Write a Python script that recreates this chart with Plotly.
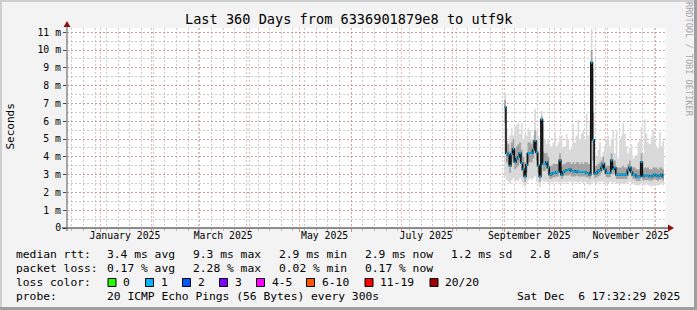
import plotly.graph_objects as go
from datetime import datetime, timedelta

# ---------------- data ----------------
title_text = "Last 360 Days from 6336901879e8 to utf9k"
x_range = ["2024-12-12 04:00", "2025-12-07 04:48"]
data_start = "2025-09-01"

median_ms = [
    6.8, 4.2, 4.1, 3.5, 4.15, 4.45, 3.7, 3.9, 4.0, 4.2,
    3.65, 3.3, 2.9, 3.55, 4.2, 4.2, 4.2, 4.4, 4.9, 4.25,
    3.5, 2.9, 6.1, 3.6, 3.6, 3.7, 3.4, 3.0, 3.05, 3.1,
    3.1, 3.15, 3.15, 3.8, 3.0, 3.15, 3.2, 3.25, 3.25, 3.3,
    3.2, 3.2, 3.15, 3.2, 3.15, 3.15, 3.15, 3.15, 3.15, 3.1,
    3.1, 3.0, 9.3, 4.95, 3.05, 3.1, 3.2, 3.25, 3.4, 3.6,
    3.3, 3.1, 3.1, 3.1, 3.8, 3.3, 3.4, 3.0, 3.0, 3.0,
    3.0, 3.0, 3.0, 3.0, 3.25, 3.4, 3.15, 3.0, 3.0, 2.9,
    2.9, 2.9, 3.7, 2.9, 2.95, 2.95, 2.95, 2.9, 2.9, 2.95,
    3.0, 2.95, 2.9, 2.95, 3.0, 2.9]

smoke_hi_ms = [
    7.6, 5.6, 4.8, 5.2, 5.6, 5.2, 5.7, 5.8, 5.9, 5.3,
    5.9, 5.0, 5.3, 5.2, 5.6, 5.5, 5.0, 5.2, 6.7, 5.5,
    5.2, 4.5, 6.6, 5.8, 5.0, 4.7, 5.0, 4.6, 4.6, 4.8,
    5.4, 4.6, 4.8, 5.2, 5.2, 4.5, 4.6, 5.3, 5.0, 4.4,
    4.5, 5.8, 4.8, 5.2, 6.1, 5.0, 5.3, 5.5, 5.0, 6.4,
    5.2, 6.0, 11.2, 9.0, 4.3, 4.0, 4.4, 4.8, 4.0, 4.3,
    4.6, 5.0, 5.2, 4.6, 5.0, 5.5, 4.2, 5.5, 3.9, 5.0,
    5.2, 5.9, 5.3, 4.6, 4.2, 4.5, 4.7, 3.9, 4.0, 4.1,
    4.8, 5.0, 5.7, 4.2, 6.1, 5.3, 4.8, 4.7, 5.1, 5.5,
    5.0, 4.6, 4.5, 5.4, 4.6, 4.9]

smoke_lo_ms = [
    2.9, 2.7, 2.6, 2.5, 2.7, 2.8, 2.6, 2.7, 2.6, 2.8,
    2.6, 2.4, 2.3, 2.5, 2.7, 2.8, 2.7, 2.8, 2.9, 2.6,
    2.5, 2.3, 2.7, 2.6, 2.6, 2.6, 2.5, 2.5, 2.6, 2.5,
    2.6, 2.6, 2.5, 2.6, 2.5, 2.6, 2.6, 2.5, 2.6, 2.6,
    2.6, 2.5, 2.6, 2.6, 2.5, 2.6, 2.6, 2.5, 2.6, 2.5,
    2.5, 2.4, 2.6, 2.6, 2.5, 2.5, 2.6, 2.6, 2.6, 2.6,
    2.5, 2.5, 2.5, 2.6, 2.6, 2.5, 2.6, 2.5, 2.5, 2.5,
    2.5, 2.5, 2.5, 2.5, 2.6, 2.6, 2.5, 2.5, 2.4, 2.4,
    2.4, 2.4, 2.5, 2.4, 2.4, 2.5, 2.4, 2.4, 2.3, 2.4,
    2.4, 2.4, 2.4, 2.4, 2.5, 2.4]

smoke_p80_ms = [
    7.2, 4.9, 4.7, 4.3, 4.8, 5.0, 4.4, 4.6, 4.7, 4.8,
    4.4, 4.0, 3.7, 4.2, 4.8, 4.8, 4.7, 4.9, 5.5, 4.9,
    4.2, 3.6, 6.3, 4.3, 4.2, 4.2, 4.0, 3.5, 3.5, 3.6,
    3.6, 3.6, 3.6, 4.2, 3.5, 3.6, 3.6, 3.7, 3.7, 3.7,
    3.6, 3.7, 3.6, 3.7, 3.7, 3.6, 3.7, 3.6, 3.7, 3.7,
    3.6, 3.6, 10.0, 6.5, 3.5, 3.5, 3.6, 3.7, 3.8, 4.0,
    3.7, 3.5, 3.5, 3.5, 4.2, 3.7, 3.8, 3.4, 3.4, 3.4,
    3.4, 3.5, 3.4, 3.4, 3.6, 3.8, 3.5, 3.4, 3.4, 3.3,
    3.3, 3.3, 4.2, 3.3, 3.4, 3.4, 3.4, 3.3, 3.3, 3.4,
    3.4, 3.4, 3.3, 3.4, 3.4, 3.3]

smoke_p20_ms = [
    5.9, 3.7, 3.6, 3.1, 3.7, 3.9, 3.3, 3.4, 3.5, 3.7,
    3.2, 2.9, 2.6, 3.1, 3.7, 3.7, 3.7, 3.9, 4.3, 3.8,
    3.1, 2.6, 5.2, 3.2, 3.2, 3.3, 3.0, 2.75, 2.8, 2.85,
    2.85, 2.9, 2.9, 3.3, 2.75, 2.9, 2.95, 2.95, 2.95, 3.0,
    2.9, 2.9, 2.9, 2.95, 2.9, 2.9, 2.9, 2.9, 2.9, 2.85,
    2.85, 2.75, 7.0, 3.8, 2.8, 2.85, 2.9, 2.95, 3.1, 3.25,
    3.0, 2.85, 2.85, 2.85, 3.4, 3.0, 3.1, 2.75, 2.75, 2.75,
    2.75, 2.75, 2.75, 2.75, 2.95, 3.1, 2.9, 2.75, 2.75, 2.65,
    2.65, 2.65, 3.3, 2.65, 2.7, 2.7, 2.7, 2.65, 2.65, 2.7,
    2.75, 2.7, 2.65, 2.7, 2.75, 2.65]

y_tick_vals = [0, 1, 2, 3, 4, 5, 6, 7, 8, 9, 10, 11]
y_tick_text = ["0", "1 m", "2 m", "3 m", "4 m", "5 m", "6 m", "7 m", "8 m", "9 m", "10 m", "11 m"]
y_max = 11.24

month_starts = ["2025-01-01", "2025-02-01", "2025-03-01", "2025-04-01", "2025-05-01", "2025-06-01",
                "2025-07-01", "2025-08-01", "2025-09-01", "2025-10-01", "2025-11-01", "2025-12-01"]
label_dates = ["2025-01-16", "2025-03-16", "2025-05-16", "2025-07-16", "2025-09-16", "2025-11-16"]
label_text = ["January 2025", "March 2025", "May 2025", "July 2025", "September 2025", "November 2025"]

rtt_label = "median rtt:"
rtt_stats = ["3.4 ms avg", "9.3 ms max", "2.9 ms min", "2.9 ms now", "1.2 ms sd", "2.8", "am/s"]
loss_label = "packet loss:"
loss_stats = ["0.17 % avg", "2.28 % max", "0.02 % min", "0.17 % now"]
color_label = "loss color:"
loss_names = ["0", "1", "2", "3", "4-5", "6-10", "11-19", "20/20"]
loss_colors = ["#26ff00", "#00b8ff", "#0059ff", "#7e00ff", "#ff00ff", "#ff5500", "#ff0000", "#a00000"]
probe_label = "probe:"
probe_text = "20 ICMP Echo Pings (56 Bytes) every 300s"
date_text = "Sat Dec\u00a0\u00a06 17:32:29 2025"
watermark = "RRDTOOL / TOBI OETIKER"
y_title = "Seconds"

# ---------------- layout geometry ----------------
W, H = 697, 310
L, R, T, B = 67, 666, 28, 228
MONO = "DejaVu Sans Mono"
MAJOR_GRID = "rgba(225,110,110,0.5)"
MINOR_GRID = "rgba(160,160,160,0.55)"


def px(x):
    return (x - L) / (R - L)


def py(y):
    return (B - y) / (B - T)


# ---------------- traces ----------------
t0 = datetime.fromisoformat(data_start)
n = len(median_ms)
edges = [t0 + timedelta(days=i) for i in range(n + 1)]


def ext(a):
    return list(a) + [a[-1]]


fig = go.Figure()
common = dict(x=edges, mode="lines", line_shape="hv", hoverinfo="skip", showlegend=False)
fig.add_trace(go.Scatter(y=ext(smoke_lo_ms), line=dict(width=0), **common))
fig.add_trace(go.Scatter(y=ext(smoke_hi_ms), line=dict(width=0), fill="tonexty",
                         fillcolor="#d9d9d9", **common))
fig.add_trace(go.Scatter(y=ext(smoke_p20_ms), line=dict(width=0), **common))
fig.add_trace(go.Scatter(y=ext(smoke_p80_ms), line=dict(width=0), fill="tonexty",
                         fillcolor="#a2a2a2", **common))
fig.add_trace(go.Scatter(y=ext(median_ms), line=dict(width=1.6, color="#111111"), **common))

seg_x, seg_y = [], []
for i, v in enumerate(median_ms):
    seg_x += [edges[i], edges[i + 1], None]
    seg_y += [v, v, None]
fig.add_trace(go.Scatter(x=seg_x, y=seg_y, mode="lines", line=dict(width=2, color=loss_colors[1]),
                         hoverinfo="skip", showlegend=False))
# invisible trace on the overlay axis so its labels render
fig.add_trace(go.Scatter(x=[x_range[0]], y=[0], xaxis="x2", mode="markers",
                         marker=dict(opacity=0), hoverinfo="skip", showlegend=False))

# ---------------- shapes ----------------
shapes = []
shapes.append(dict(type="rect", xref="paper", yref="paper", x0=px(0), x1=px(W), y0=py(0), y1=py(2),
                   fillcolor="#cfcfcf", line_width=0, layer="above"))
shapes.append(dict(type="rect", xref="paper", yref="paper", x0=px(0), x1=px(2), y0=py(0), y1=py(H),
                   fillcolor="#cfcfcf", line_width=0, layer="above"))
shapes.append(dict(type="rect", xref="paper", yref="paper", x0=px(0), x1=px(W), y0=py(H - 3), y1=py(H),
                   fillcolor="#9e9e9e", line_width=0, layer="above"))
shapes.append(dict(type="rect", xref="paper", yref="paper", x0=px(W - 3), x1=px(W), y0=py(0), y1=py(H),
                   fillcolor="#9e9e9e", line_width=0, layer="above"))
shapes.append(dict(type="line", xref="paper", yref="paper", x0=px(62), x1=px(669), y0=py(228), y1=py(228),
                   line=dict(color="#222222", width=1), layer="above"))
shapes.append(dict(type="line", xref="paper", yref="paper", x0=px(67), x1=px(67), y0=py(231), y1=py(25),
                   line=dict(color="#555555", width=1), layer="above"))


def ppath(points):
    return "M " + " L ".join(f"{px(a)},{py(b)}" for a, b in points) + " Z"


shapes.append(dict(type="path", xref="paper", yref="paper",
                   path=ppath([(668, 224.5), (674, 228), (668, 231.5)]),
                   fillcolor="#8b1010", line=dict(width=0), layer="above"))
shapes.append(dict(type="path", xref="paper", yref="paper",
                   path=ppath([(63.5, 27), (67, 21), (70.5, 27)]),
                   fillcolor="#8b1010", line=dict(width=0), layer="above"))

box_x = [108, 145.5, 182.5, 219.5, 256.5, 306.5, 365, 430]
for bx, c in zip(box_x, loss_colors):
    shapes.append(dict(type="rect", xref="paper", yref="paper", x0=px(bx), x1=px(bx + 8),
                       y0=py(286.5), y1=py(278.5), fillcolor=c,
                       line=dict(color="#000000", width=1), layer="above"))

# ---------------- annotations ----------------
ann = []


def text(x, y, s, size=11.3, anchor="left", color="#000000", angle=0):
    ann.append(dict(x=px(x), y=py(y), xref="paper", yref="paper", text=s, showarrow=False,
                    xanchor=anchor, yanchor="middle", textangle=angle, borderpad=0,
                    font=dict(family=MONO, size=size, color=color)))


text(348, 19, title_text, size=13.6, anchor="center")
text(9.5, 127, y_title, size=11, anchor="center", angle=-90)
text(689, 59, watermark, size=8.6, anchor="center", angle=90, color="#a8a8a8")

row1_y, row2_y, row3_y, row4_y = 254.5, 268.5, 282.5, 296.5
text(15, row1_y, rtt_label)
for xx, s in zip([106, 192, 278, 364, 450, 529, 571], rtt_stats):
    text(xx, row1_y, s)
text(15, row2_y, loss_label)
for xx, s in zip([106, 192, 278, 364], loss_stats):
    text(xx, row2_y, s)
text(15, row3_y, color_label)
for bx, s in zip(box_x, loss_names):
    text(bx + 14, row3_y, s)
text(15, row4_y, probe_label)
text(106, row4_y, probe_text)
text(681, row4_y, date_text, anchor="right")

# ---------------- layout ----------------
fig.update_layout(
    width=W, height=H,
    margin=dict(l=L, r=W - R, t=T, b=H - B, pad=0),
    paper_bgcolor="#f3f3f3", plot_bgcolor="#ffffff",
    font=dict(family=MONO, size=10, color="#000000"),
    shapes=shapes, annotations=ann,
    xaxis=dict(
        type="date", range=x_range, tickmode="array", tickvals=month_starts,
        ticktext=["" for _ in month_starts],
        showgrid=True, gridcolor=MAJOR_GRID, griddash="2px,2px", gridwidth=1,
        ticks="outside", ticklen=3, tickcolor="#e08080", showline=False, zeroline=False,
        minor=dict(tick0="2024-12-15", dtick=7 * 86400000, showgrid=True,
                   gridcolor=MINOR_GRID, griddash="2px,2px", gridwidth=1,
                   ticks="outside", ticklen=2, tickcolor="#bbbbbb"),
    ),
    xaxis2=dict(
        type="date", range=x_range, overlaying="x", anchor="y", side="bottom",
        tickmode="array", tickvals=label_dates, ticktext=label_text,
        showgrid=False, ticks="", zeroline=False, showline=False,
        tickfont=dict(family=MONO, size=9.8),
    ),
    yaxis=dict(
        range=[0, y_max], tickmode="array", tickvals=y_tick_vals, ticktext=y_tick_text,
        showgrid=True, gridcolor=MAJOR_GRID, griddash="2px,2px", gridwidth=1,
        ticks="outside", ticklen=3, tickcolor="#444444", zeroline=False, showline=False,
        tickfont=dict(family=MONO, size=9.8),
        minor=dict(dtick=0.5, tick0=0, showgrid=True, gridcolor=MINOR_GRID,
                   griddash="2px,2px", gridwidth=1),
    ),
)

fig.write_html("out.html")
